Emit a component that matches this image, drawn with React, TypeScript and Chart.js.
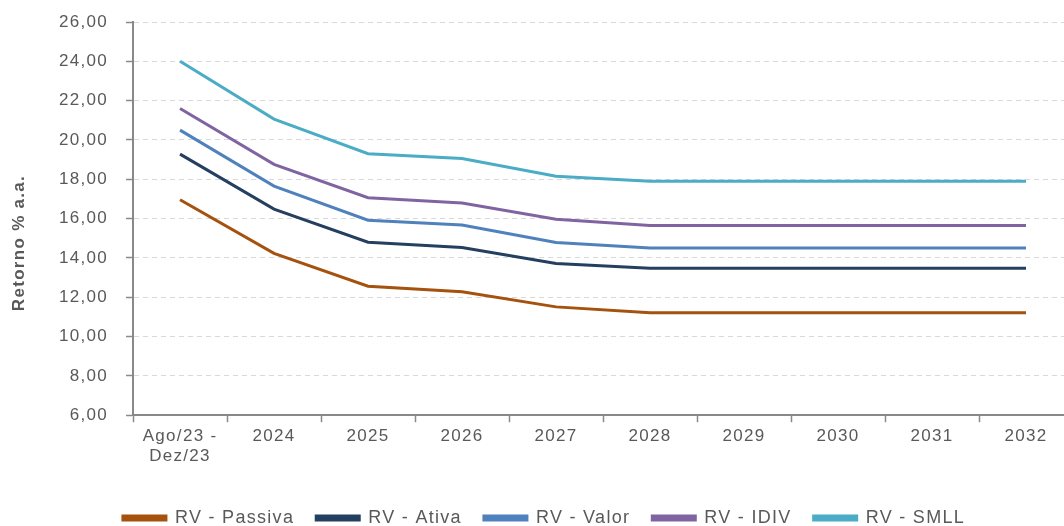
import React, { useEffect, useRef } from "react";
import { Chart, registerables } from "chart.js";

Chart.register(...registerables);

const categories: (string | string[])[] = [["Ago/23 -", "Dez/23"], "2024", "2025", "2026", "2027", "2028", "2029", "2030", "2031", "2032"];
const rvPassiva = [16.96, 14.23, 12.56, 12.28, 11.51, 11.21, 11.21, 11.21, 11.21, 11.21];
const rvAtiva = [19.28, 16.48, 14.8, 14.53, 13.72, 13.47, 13.47, 13.47, 13.47, 13.47];
const rvValor = [20.5, 17.65, 15.92, 15.67, 14.79, 14.51, 14.51, 14.51, 14.51, 14.51];
const rvIdiv = [21.6, 18.76, 17.06, 16.79, 15.97, 15.65, 15.65, 15.65, 15.65, 15.65];
const rvSmll = [24.0, 21.06, 19.3, 19.06, 18.16, 17.9, 17.9, 17.9, 17.9, 17.9];
const seriesNames = ["RV - Passiva", "RV - Ativa", "RV - Valor", "RV - IDIV", "RV - SMLL"];
const seriesColors = ["#A5520E", "#243F60", "#4F81BD", "#8064A2", "#4BACC6"];
const yAxisTitle = "Retorno % a.a.";

const FONT = "'Liberation Sans', Arial, sans-serif";
const TEXT = "#595959";
const SPACING = "1.3px";

export default function App() {
  const ref = useRef<HTMLCanvasElement | null>(null);
  useEffect(() => {
    if (!ref.current) return;
    const spacingPlugin = {
      id: "spacing",
      beforeLayout(chart: any) { (chart.ctx as any).letterSpacing = SPACING; },
      beforeDraw(chart: any) { (chart.ctx as any).letterSpacing = SPACING; },
      afterDraw(chart: any) {
        const ctx = chart.ctx;
        ctx.save();
        (ctx as any).letterSpacing = SPACING;
        ctx.translate(19, 243);
        ctx.rotate(-Math.PI / 2);
        ctx.font = `bold 17px ${FONT}`;
        ctx.fillStyle = TEXT;
        ctx.textAlign = "center";
        ctx.textBaseline = "middle";
        ctx.fillText(yAxisTitle, 0, 0);
        ctx.restore();
      },
    };
    const values = [rvPassiva, rvAtiva, rvValor, rvIdiv, rvSmll];
    const chart = new Chart(ref.current, {
      type: "line",
      data: {
        labels: categories as any,
        datasets: values.map((d, i) => ({
          label: seriesNames[i],
          data: d,
          borderColor: seriesColors[i],
          backgroundColor: seriesColors[i],
          borderWidth: 3,
          pointRadius: 0,
          tension: 0,
        })),
      },
      options: {
        responsive: false,
        animation: false,
        layout: { padding: { left: 15, right: 7, top: 22, bottom: 0 } },
        plugins: {
          tooltip: { enabled: false },
          legend: {
            position: "bottom",
            labels: {
              font: { family: FONT, size: 18 },
              color: TEXT,
              boxWidth: 43,
              boxHeight: 4,
              padding: 22,
            },
          },
        },
        scales: {
          x: {
            offset: true,
            afterFit: (scale: any) => { scale.height += 16; },
            grid: { display: true, drawOnChartArea: false, drawTicks: true, tickLength: 7, offset: true, tickColor: "#898989", tickWidth: 1.5 },
            border: { display: true, color: "#898989", width: 2 },
            ticks: { font: { family: FONT, size: 17 }, color: TEXT, maxRotation: 0, autoSkip: false, padding: 4 },
          },
          y: {
            min: 6,
            max: 26,
            afterFit: (scale: any) => { scale.width += 26; scale.paddingTop = 0; },
            grid: { color: "#D9D9D9", lineWidth: 1, tickLength: 7, tickColor: "#898989", tickBorderDash: [], tickWidth: 1.5 },
            border: { display: true, color: "#898989", width: 2, dash: [5, 4] },
            ticks: {
              stepSize: 2,
              font: { family: FONT, size: 17 },
              color: TEXT,
              padding: 18,
              callback: (v: any) => Number(v).toFixed(2).replace(".", ","),
            },
          },
        },
      },
      plugins: [spacingPlugin],
    });
    return () => chart.destroy();
  }, []);
  return (
    <div style={{ position: "absolute", left: 0, top: 0, width: 1064, height: 526, overflow: "hidden", background: "#fff" }}>
      <canvas ref={ref} width={1080} height={537} style={{ width: 1080, height: 537, display: "block" }} />
    </div>
  );
}
